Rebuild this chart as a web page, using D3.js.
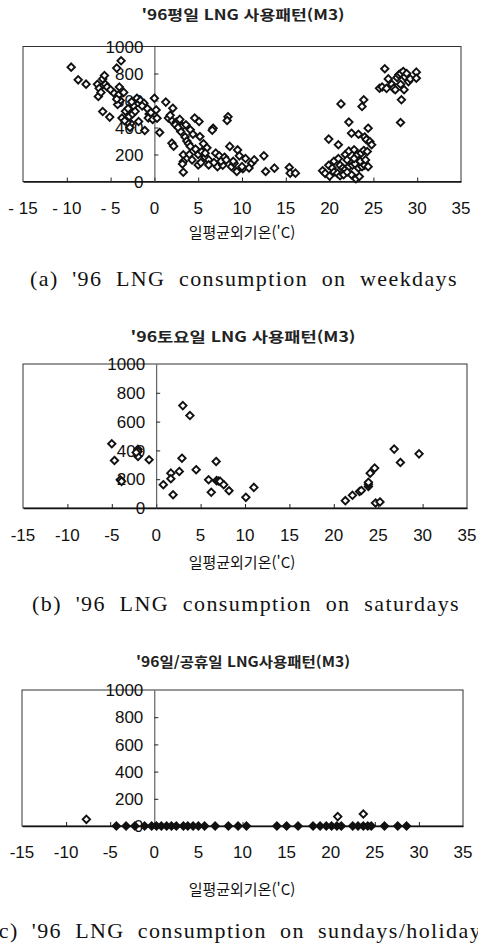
<!DOCTYPE html>
<html lang="ko">
<head>
<meta charset="utf-8">
<script src="https://cdn.jsdelivr.net/npm/d3@7/dist/d3.min.js"></script>
<style>
  body { margin: 0; background: #fff; }
  svg { display: block; }
</style>
</head>
<body>
<div id="chart"></div>
<script>
// '96 weekdays: daily mean outdoor temperature ('C) vs LNG use (M3)
const wdTemp = [-9.5,-8.7,-7.8,-6.5,-6.3,-6.4,-6.1,-5.9,-5.7,-5.6,-5.4,-5.9,-5.1,-5.0,-4.6,-4.3,-3.8,-4.1,-3.9,-4.2,-4.3,-3.7,-3.5,-3.3,-3.0,-2.9,-2.7,-2.5,-3.1,-2.4,-2.8,-2.2,-2.0,-1.6,-1.2,-0.8,-0.6,-1.1,-1.8,-0.7,-0.4,-0.2,-1.4,-2.6,-3.4,-4.0,
  0.0,0.6,0.3,0.2,1.3,2.1,1.6,2.0,2.5,2.9,3.2,2.4,1.8,2.0,2.2,3.5,3.7,3.9,4.1,3.3,3.3,3.2,3.3,4.1,4.6,5.1,5.2,6.7,6.6,8.4,8.3,5.0,4.7,5.4,5.8,6.2,5.6,5.0,5.3,6.2,7.0,7.4,8.0,8.6,7.2,7.8,8.8,9.1,9.5,9.7,10.4,9.4,10.1,11.1,11.4,12.5,12.7,13.7,15.4,15.5,16.1,4.4,6.0,6.8,7.6,9.0,10.0,10.8,4.0,4.3,5.8,3.0,2.7,3.6,8.2,
  19.2,19.5,19.9,20.3,20.5,20.9,19.9,21.0,21.3,22.2,22.5,21.8,22.2,22.8,23.2,23.6,23.9,21.2,21.5,21.8,22.2,22.6,22.9,23.3,23.7,24.0,24.4,21.2,21.6,22.5,23.0,23.4,23.3,23.7,23.9,24.0,24.2,24.4,24.6,24.8,24.3,20.5,21.0,22.0,22.8,23.5,20.0,22.0,24.1,
  25.7,26.3,26.7,27.1,27.3,27.7,27.9,28.1,28.4,28.6,28.8,29.0,29.2,27.5,28.1,28.5,29.9,29.9,28.2,28.1,26.0,26.5];
const wdLng = [847,753,721,720,690,630,660,760,785,720,700,518,477,679,654,840,894,640,600,570,610,470,660,520,540,480,430,500,440,560,400,520,617,600,580,540,500,378,444,470,510,460,560,590,450,700,
  617,363,469,530,588,543,470,450,440,460,410,420,490,284,262,330,300,280,260,198,148,130,69,383,470,444,333,395,380,480,452,200,240,220,180,160,280,123,140,123,210,190,180,260,110,120,110,135,234,190,170,74,95,136,160,190,74,99,104,62,62,350,250,140,150,150,110,100,200,160,210,370,400,420,160,
  80,60,120,100,70,60,314,272,575,440,358,200,225,235,200,210,230,120,100,90,110,120,130,100,110,120,110,42,50,50,20,37,350,555,605,330,310,395,296,272,222,150,170,160,170,150,40,70,160,
  691,835,760,720,690,770,790,800,815,775,800,740,760,680,720,680,810,765,605,437,700,690];

// '96 saturdays
const satTemp = [-5.0,-4.7,-4.05,-3.9,-2.05,-2.05,-2.05,-2.25,-0.8,0.8,1.65,1.65,1.9,2.6,2.9,3.0,3.8,4.5,5.9,6.2,6.75,6.8,7.0,7.2,7.6,8.2,10.1,11.0,
  21.3,22.1,22.9,23.1,23.9,23.9,23.9,24.1,24.6,24.7,25.2,26.8,27.5,29.6];
const satLng = [446,330,196,185,408,393,358,386,335,162,242,203,92,254,346,711,642,266,196,109,323,190,188,185,162,120,74,143,
  51,88,115,122,150,165,178,242,277,35,42,409,316,376];

// '96 sundays / holidays
const sunTemp = [-7.7,20.8,23.7,
  -4.3,-3.2,-2.2,-1.1,-0.3,0.25,0.8,1.4,1.95,2.5,3.3,3.8,4.4,5.0,5.7,6.9,8.4,9.5,10.45,13.9,15.0,16.3,18.0,18.8,19.5,20.1,20.7,21.2,22.5,23.1,23.7,24.2,24.6,26.1,27.6,28.6];
const sunLng = [49,69,88,
  0,0,0,0,0,0,0,0,0,0,0,0,0,0,0,0,0,0,0,0,0,0,0,0,0,0,0,0,0,0,0,0,0,0,0,0];

const xTicks = [-15,-10,-5,0,5,10,15,20,25,30,35];
const xTickLabels1 = ["- 15","- 10","- 5","0","5","10","15","20","25","30","35"];
const xTickLabels = ["-15","-10","-5","0","5","10","15","20","25","30","35"];
const yTicks = [0,200,400,600,800,1000];

const titles = ["'96평일 LNG 사용패턴(M3)", "'96토요일 LNG 사용패턴(M3)", "'96일/공휴일 LNG사용패턴(M3)"];
const xTitle = "일평균외기온('C)";
const captions = ["(a) '96 LNG consumption on weekdays", "(b) '96 LNG consumption on saturdays", "(c) '96 LNG consumption on sundays/holidays"];

const W = 478, H = 943;
const svg = d3.select("#chart").append("svg")
  .attr("width", W).attr("height", H);
svg.append("rect").attr("width", W).attr("height", H).attr("fill", "#fff");

// layout of each panel (pixels)
const panels = [
  { temps: wdTemp, lng: wdLng, labels: xTickLabels1, left: 23, right: 461, top: 46.5, bottom: 181.5,
    titleY: 20, titleW: 203, tickY: 214, xTitleY: 238, capY: 286, capL: 30, capW: 428 },
  { temps: satTemp, lng: satLng, labels: xTickLabels, left: 23, right: 467, top: 364, bottom: 508,
    titleY: 342, titleW: 225, tickY: 541, xTitleY: 568, capY: 611, capL: 32, capW: 428 },
  { temps: sunTemp, lng: sunLng, labels: xTickLabels, left: 22, right: 463, top: 690, bottom: 826,
    titleY: 667, titleW: 214, tickY: 858, xTitleY: 895, capY: 938, capL: -10, capW: 502 }
];

const diamond = r => `M0,${-r}L${r},0L0,${r}L${-r},0Z`;

panels.forEach((p, i) => {
  const x = d3.scaleLinear().domain([-15, 35]).range([p.left, p.right]);
  const y = d3.scaleLinear().domain([0, 1000]).range([p.bottom, p.top]);
  const g = svg.append("g");

  // title
  g.append("text")
    .attr("x", 243).attr("y", p.titleY)
    .attr("text-anchor", "middle")
    .attr("textLength", p.titleW).attr("lengthAdjust", "spacingAndGlyphs")
    .style("font-family", "'Noto Sans CJK KR', sans-serif")
    .style("font-size", "14px").style("font-weight", "bold")
    .attr("fill", "#222")
    .text(titles[i]);

  // plot frame
  g.append("rect")
    .attr("x", p.left).attr("y", p.top)
    .attr("width", p.right - p.left).attr("height", p.bottom - p.top)
    .attr("fill", "none").attr("stroke", "#333").attr("stroke-width", 1);

  // x axis along the bottom, ticks pointing inward
  const xAxis = d3.axisBottom(x).tickValues(xTicks.slice(1, -1)).tickSizeInner(-4).tickSizeOuter(0).tickFormat("");
  g.append("g").attr("transform", `translate(0,${p.bottom})`).call(xAxis)
    .call(a => a.select(".domain").attr("stroke", "#111").attr("stroke-width", 1.4))
    .call(a => a.selectAll(".tick line").attr("stroke", "#222"));

  // x tick labels
  g.selectAll(".xl").data(xTicks).enter().append("text")
    .attr("x", d => x(d)).attr("y", p.tickY)
    .attr("text-anchor", "middle")
    .style("font-family", "'Liberation Sans', Arial, sans-serif")
    .style("font-size", "17px").attr("fill", "#111")
    .text((d, j) => p.labels[j]);

  // y axis at x = 0, ticks pointing right
  const yAxis = d3.axisRight(y).tickValues(yTicks.slice(1, -1)).tickSizeInner(4).tickSizeOuter(0).tickFormat("");
  g.append("g").attr("transform", `translate(${x(0)},0)`).call(yAxis)
    .call(a => a.select(".domain").attr("stroke", "#444").attr("stroke-width", 1))
    .call(a => a.selectAll(".tick line").attr("stroke", "#222"));

  // y tick labels, left of the axis
  g.selectAll(".yl").data(yTicks).enter().append("text")
    .attr("x", x(0) - 11).attr("y", d => y(d))
    .attr("dy", "0.36em")
    .attr("text-anchor", "end")
    .style("font-family", "'Liberation Sans Narrow', 'Liberation Sans', Arial, sans-serif")
    .style("font-size", "17px").attr("fill", "#111")
    .text(d => d);

  // points
  g.selectAll(".pt").data(p.temps.map((t, j) => [t, p.lng[j]])).enter().append("path")
    .attr("d", diamond(3.7))
    .attr("transform", d => `translate(${x(d[0])},${y(d[1])})`)
    .attr("fill", d => (i === 2 && d[1] === 0) ? "#111" : "#fff")
    .attr("stroke", "#111").attr("stroke-width", 1.9);

  // x axis title
  g.append("text")
    .attr("x", 242).attr("y", p.xTitleY)
    .attr("text-anchor", "middle")
    .style("font-family", "'Noto Sans CJK KR', sans-serif")
    .style("font-size", "15px").attr("fill", "#111")
    .text(xTitle);

  // caption: serif, wide gaps between words
  const cap = g.append("text")
    .attr("x", p.capL).attr("y", p.capY)
    .style("font-family", "'Liberation Serif', 'DejaVu Serif', serif")
    .style("font-size", "22px").style("letter-spacing", "1.4px").attr("fill", "#111")
    .text(captions[i]);
  const natural = cap.node().getComputedTextLength();
  const gaps = captions[i].split(" ").length - 1;
  cap.style("word-spacing", `${Math.max(0, (p.capW - natural) / gaps)}px`);
});
</script>
</body>
</html>
